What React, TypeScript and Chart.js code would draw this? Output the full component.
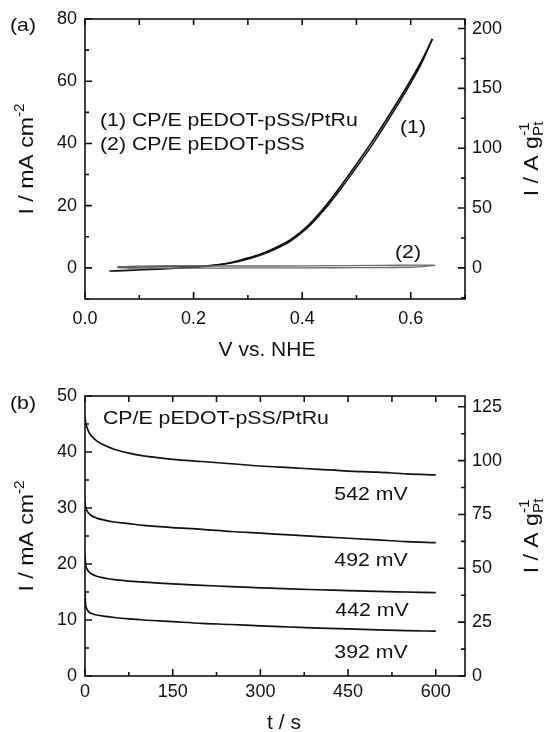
import React, { useEffect, useRef } from "react";
import { Chart, registerables } from "chart.js";

Chart.register(...registerables);

// ---------------- Panel (a): cyclic voltammograms ----------------
// (1) CP/E pEDOT-pSS/PtRu, forward (anodic) scan
const cv1ForwardV = [0.045, 0.08, 0.12, 0.16, 0.2, 0.23, 0.26, 0.29, 0.32, 0.35, 0.38, 0.41, 0.44, 0.47, 0.5, 0.53, 0.56, 0.59, 0.62, 0.64];
const cv1ForwardI = [-1.0, -0.8, -0.5, -0.2, 0.2, 0.6, 1.4, 2.7, 4.2, 6.4, 9.2, 13.4, 19.2, 26.0, 33.3, 40.9, 49.0, 57.4, 66.5, 73.6];
// (1) reverse scan
const cv1ReverseV = [0.64, 0.62, 0.59, 0.56, 0.53, 0.5, 0.47, 0.44, 0.41, 0.38, 0.35, 0.32, 0.29, 0.26, 0.23, 0.2, 0.16, 0.12, 0.08, 0.06];
const cv1ReverseI = [73.6, 65.8, 56.4, 47.9, 39.8, 32.3, 25.1, 18.5, 12.9, 8.8, 6.0, 3.9, 2.4, 1.3, 0.8, 0.6, 0.5, 0.4, 0.3, 0.3];
// (2) CP/E pEDOT-pSS
const cv2ForwardV = [0.06, 0.1, 0.2, 0.3, 0.4, 0.5, 0.6, 0.645];
const cv2ForwardI = [0.1, -0.1, -0.1, 0.0, 0.0, 0.1, 0.2, 0.8];
const cv2ReverseV = [0.645, 0.62, 0.55, 0.45, 0.35, 0.25, 0.15, 0.08, 0.06];
const cv2ReverseI = [0.8, 0.9, 0.8, 0.7, 0.6, 0.6, 0.6, 0.5, 0.1];

const aXTicks = [0, 0.2, 0.4, 0.6];
const aYTicks = [0, 20, 40, 60, 80];
const aY2Ticks = [0, 50, 100, 150, 200];

// ---------------- Panel (b): chronoamperometry ----------------
const caTime = [0, 1, 3, 6, 10, 20, 35, 50, 75, 100, 150, 200, 250, 300, 350, 400, 450, 500, 550, 600];
const ca542 = [46.2, 45.3, 44.5, 43.7, 43.0, 42.0, 41.1, 40.5, 39.8, 39.3, 38.7, 38.3, 37.9, 37.5, 37.2, 36.9, 36.6, 36.4, 36.1, 35.9];
const ca492 = [31.2, 30.2, 29.6, 29.1, 28.7, 28.2, 27.8, 27.5, 27.2, 26.9, 26.5, 26.2, 25.8, 25.5, 25.2, 24.9, 24.6, 24.3, 24.0, 23.8];
const ca442 = [21.8, 20.0, 19.2, 18.7, 18.3, 17.8, 17.45, 17.2, 16.95, 16.75, 16.45, 16.2, 15.95, 15.75, 15.55, 15.4, 15.25, 15.1, 15.0, 14.9];
const ca392 = [14.8, 12.8, 12.0, 11.5, 11.2, 10.9, 10.65, 10.45, 10.2, 10.0, 9.7, 9.4, 9.2, 8.95, 8.75, 8.55, 8.4, 8.25, 8.1, 8.0];

const bXTicks = [0, 150, 300, 450, 600];
const bYTicks = [0, 10, 20, 30, 40, 50];
const bY2Ticks = [0, 25, 50, 75, 100, 125];

// mA cm^-2  ->  A g_Pt^-1
const MASS_FACTOR = 2.6;

const FAMILY = '"Liberation Sans", Arial, Helvetica, sans-serif';
const INK = "#111111";

type Part = { t: string; sup?: boolean; sub?: boolean; stack?: boolean };
type TextItem = { parts: Part[]; x: number; y: number; align?: "left" | "center" | "right"; rot?: number; size?: number; sx?: number };

function drawRich(ctx: CanvasRenderingContext2D, item: TextItem) {
  const size = item.size ?? 19;
  const sx = item.sx ?? 1.12;
  ctx.save();
  ctx.translate(item.x, item.y);
  if (item.rot) ctx.rotate((item.rot * Math.PI) / 180);
  ctx.scale(sx, 1);
  ctx.fillStyle = INK;
  ctx.textBaseline = "alphabetic";
  ctx.textAlign = "left";
  const runs: { t: string; font: string; x: number; dy: number }[] = [];
  let cx = 0;
  let lastStart = 0;
  let lastW = 0;
  for (const p of item.parts) {
    const s = p.sup || p.sub ? size * 0.66 : size;
    const font = `${s}px ${FAMILY}`;
    ctx.font = font;
    const w = ctx.measureText(p.t).width;
    let x0: number;
    if (p.stack) {
      x0 = lastStart;
      cx = Math.max(lastStart + lastW, x0 + w);
    } else {
      x0 = cx;
      cx += w;
    }
    runs.push({ t: p.t, font, x: x0, dy: p.sup ? -size * 0.45 : p.sub ? size * 0.25 : 0 });
    lastStart = x0;
    lastW = w;
  }
  const off = item.align === "center" ? -cx / 2 : item.align === "right" ? -cx : 0;
  for (const r of runs) {
    ctx.font = r.font;
    ctx.fillText(r.t, r.x + off, r.dy);
  }
  ctx.restore();
}

const textPlugin = {
  id: "richTexts",
  afterDraw(chart: any, _args: any, opts: any) {
    const items: TextItem[] = opts.items || [];
    for (const it of items) drawRich(chart.ctx, it);
  },
};

const isMult = (v: number, step: number) => Math.abs(v / step - Math.round(v / step)) < 1e-6;

const framePlugin = {
  id: "frameTicks",
  afterDraw(chart: any, _args: any, o: any) {
    const { ctx, chartArea: a, scales } = chart;
    ctx.save();
    ctx.strokeStyle = INK;
    ctx.lineWidth = 1.6;
    ctx.strokeRect(a.left, a.top, a.right - a.left, a.bottom - a.top);
    const MAJ = 7;
    const MIN = 4;
    const TOP = 6;
    const each = (scale: any, step: number, fn: (v: number, p: number) => void) => {
      const start = Math.ceil(scale.min / step - 1e-9);
      for (let k = start; k * step <= scale.max + 1e-9; k++) {
        const v = k * step;
        fn(v, scale.getPixelForValue(v));
      }
    };
    ctx.beginPath();
    each(scales.x, o.xMinor, (v, p) => {
      const L = isMult(v, o.xMajor) ? MAJ : MIN;
      ctx.moveTo(p, a.bottom);
      ctx.lineTo(p, a.bottom - L);
    });
    each(scales.x, o.xTop, (_v, p) => {
      ctx.moveTo(p, a.top);
      ctx.lineTo(p, a.top + TOP);
    });
    each(scales.y, o.yMinor, (v, p) => {
      const L = isMult(v, o.yMajor) ? MAJ : MIN;
      ctx.moveTo(a.left, p);
      ctx.lineTo(a.left + L, p);
    });
    each(scales.y2, o.y2Minor, (v, p) => {
      const L = isMult(v, o.y2Major) ? MAJ : MIN;
      ctx.moveTo(a.right, p);
      ctx.lineTo(a.right - L, p);
    });
    ctx.stroke();
    ctx.restore();
  },
};

const tickFont = { family: FAMILY, size: 18 };

function axis(position: string, min: number, max: number, values: number[], fmt: (v: number) => string, padding: number, fit: (s: any) => void) {
  return {
    type: "linear",
    position,
    min,
    max,
    afterBuildTicks: (s: any) => {
      s.ticks = values.map((v) => ({ value: v }));
    },
    afterFit: fit,
    ticks: { font: tickFont, color: INK, padding, maxRotation: 0, autoSkip: false, callback: (v: any) => fmt(Number(v)) },
    grid: { display: false, drawTicks: false },
    border: { display: false },
  };
}

const pts = (xs: number[], ys: number[]) => xs.map((x, i) => ({ x, y: ys[i] }));

function lineDs(data: any[], color: string, width: number) {
  return {
    data,
    borderColor: color,
    borderWidth: width,
    pointRadius: 0,
    showLine: true,
    fill: false,
    cubicInterpolationMode: "monotone",
    yAxisID: "y",
  };
}

function buildA(): any {
  return {
    type: "scatter",
    data: {
      datasets: [
        lineDs(pts(cv2ForwardV, cv2ForwardI), "#6a6a6a", 1.3),
        lineDs(pts(cv2ReverseV, cv2ReverseI), "#6a6a6a", 1.3),
        lineDs(pts(cv1ForwardV, cv1ForwardI), INK, 1.7),
        lineDs(pts(cv1ReverseV, cv1ReverseI), INK, 1.5),
      ],
    },
    options: {
      animation: false,
      responsive: false,
      maintainAspectRatio: false,
      events: [],
      layout: { padding: { top: 19, left: 0, right: 0, bottom: 0 } },
      scales: {
        x: axis("bottom", 0, 0.7, aXTicks, (v) => v.toFixed(1), 9, (s) => (s.height = 67)),
        y: axis("left", -10, 80, aYTicks, (v) => String(v), 8, (s) => (s.width = 85)),
        y2: axis("right", -10 * MASS_FACTOR, 80 * MASS_FACTOR, aY2Ticks, (v) => String(v), 7, (s) => (s.width = 85)),
      },
      plugins: {
        legend: { display: false },
        tooltip: { enabled: false },
        frameTicks: { xMinor: 0.1, xMajor: 0.2, xTop: 0.1, yMinor: 10, yMajor: 20, y2Minor: 25, y2Major: 50 },
        richTexts: {
          items: [
            { parts: [{ t: "(a)" }], x: 10, y: 31 },
            { parts: [{ t: "(1) CP/E pEDOT-pSS/PtRu" }], x: 100, y: 126 },
            { parts: [{ t: "(2) CP/E pEDOT-pSS" }], x: 100, y: 150 },
            { parts: [{ t: "(1)" }], x: 413, y: 133, align: "center" },
            { parts: [{ t: "(2)" }], x: 408, y: 258, align: "center" },
            { parts: [{ t: "V vs. NHE" }], x: 267, y: 356, align: "center", size: 20, sx: 1.05 },
            { parts: [{ t: "I / mA cm" }, { t: "-2", sup: true }], x: 33, y: 159, rot: -90, align: "center", size: 21, sx: 1.1 },
            { parts: [{ t: "I / A g" }, { t: "Pt", sub: true }, { t: "-1", sup: true, stack: true }], x: 538, y: 159, rot: -90, align: "center", size: 21, sx: 1.1 },
          ],
        },
      },
    },
    plugins: [framePlugin, textPlugin],
  };
}

function buildB(): any {
  return {
    type: "scatter",
    data: {
      datasets: [
        lineDs(pts(caTime, ca542), INK, 1.7),
        lineDs(pts(caTime, ca492), INK, 1.7),
        lineDs(pts(caTime, ca442), INK, 1.7),
        lineDs(pts(caTime, ca392), INK, 1.7),
      ],
    },
    options: {
      animation: false,
      responsive: false,
      maintainAspectRatio: false,
      events: [],
      layout: { padding: { top: 30, left: 0, right: 0, bottom: 0 } },
      scales: {
        x: axis("bottom", 0, 650, bXTicks, (v) => String(v), 5, (s) => (s.height = 56)),
        y: axis("left", 0, 50, bYTicks, (v) => String(v), 8, (s) => (s.width = 85)),
        y2: axis("right", 0, 50 * MASS_FACTOR, bY2Ticks, (v) => String(v), 7, (s) => (s.width = 85)),
      },
      plugins: {
        legend: { display: false },
        tooltip: { enabled: false },
        frameTicks: { xMinor: 75, xMajor: 150, xTop: 75, yMinor: 5, yMajor: 10, y2Minor: 12.5, y2Major: 25 },
        richTexts: {
          items: [
            { parts: [{ t: "(b)" }], x: 10, y: 43 },
            { parts: [{ t: "CP/E pEDOT-pSS/PtRu" }], x: 103, y: 58 },
            { parts: [{ t: "542 mV" }], x: 371, y: 134, align: "center" },
            { parts: [{ t: "492 mV" }], x: 371, y: 200, align: "center" },
            { parts: [{ t: "442 mV" }], x: 372, y: 250, align: "center" },
            { parts: [{ t: "392 mV" }], x: 371, y: 292, align: "center" },
            { parts: [{ t: "t / s" }], x: 284, y: 363, align: "center", size: 20, sx: 1.05 },
            { parts: [{ t: "I / mA cm" }, { t: "-2", sup: true }], x: 33, y: 170, rot: -90, align: "center", size: 21, sx: 1.1 },
            { parts: [{ t: "I / A g" }, { t: "Pt", sub: true }, { t: "-1", sup: true, stack: true }], x: 538, y: 170, rot: -90, align: "center", size: 21, sx: 1.1 },
          ],
        },
      },
    },
    plugins: [framePlugin, textPlugin],
  };
}

export default function App() {
  const refA = useRef<HTMLCanvasElement>(null);
  const refB = useRef<HTMLCanvasElement>(null);
  useEffect(() => {
    const a = new Chart(refA.current as HTMLCanvasElement, buildA());
    const b = new Chart(refB.current as HTMLCanvasElement, buildB());
    return () => {
      a.destroy();
      b.destroy();
    };
  }, []);
  return (
    <div style={{ position: "absolute", left: 0, top: 0, width: 550, height: 732, background: "#fff" }}>
      <canvas ref={refA} width={550} height={366} style={{ position: "absolute", left: 0, top: 0, width: 550, height: 366 }} />
      <canvas ref={refB} width={550} height={366} style={{ position: "absolute", left: 0, top: 366, width: 550, height: 366 }} />
    </div>
  );
}
